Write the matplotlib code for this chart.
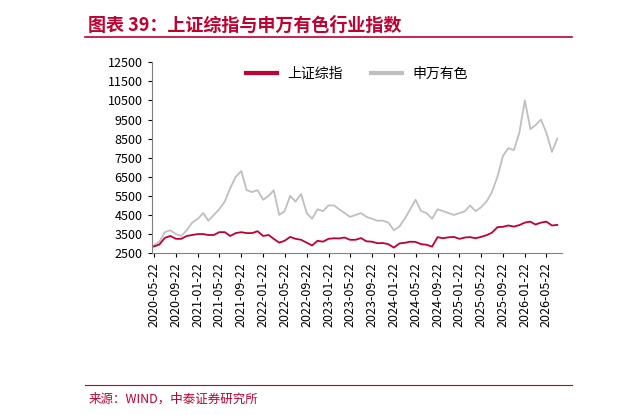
import pandas as pd
import matplotlib.pyplot as plt
from matplotlib.lines import Line2D

plt.rcParams['font.family'] = ['Noto Sans CJK SC', 'DejaVu Sans']

# monthly readings (22nd of each month), 2020-05 .. 2026-07
dates = pd.date_range('2020-05-01', periods=75, freq='MS') + pd.Timedelta(days=21)
sse = [2850, 2950, 3300, 3400, 3250, 3250, 3400, 3450,
       3500, 3500, 3450, 3450, 3600, 3600, 3400, 3550, 3600, 3550, 3550, 3650,
       3400, 3450, 3250, 3050, 3150, 3350, 3250, 3200, 3050, 2900, 3150, 3100,
       3250, 3280, 3270, 3320, 3200, 3200, 3290, 3120, 3100, 3020, 3030, 2970,
       2790, 3010, 3040, 3100, 3090, 2970, 2940, 2840, 3340, 3280, 3330, 3350,
       3250, 3320, 3340, 3280, 3350, 3440, 3570, 3860, 3880, 3950, 3890, 3970,
       4100, 4150, 4000, 4100, 4150, 3950, 3980]
metals = [2900, 3100, 3600, 3700, 3500, 3400, 3700, 4100,
          4300, 4600, 4200, 4500, 4800, 5200, 5900, 6500, 6800, 5800, 5700, 5800,
          5300, 5500, 5800, 4500, 4700, 5500, 5200, 5600, 4600, 4300, 4800, 4700,
          5000, 5000, 4800, 4600, 4400, 4500, 4600, 4400, 4300, 4200, 4200, 4100,
          3700, 3900, 4300, 4800, 5300, 4700, 4600, 4300, 4800, 4700, 4600, 4500,
          4600, 4700, 5000, 4700, 4900, 5200, 5700, 6500, 7600, 8000, 7900, 8800,
          10500, 9000, 9200, 9500, 8800, 7800, 8500]
yticks = list(range(2500, 13000, 1000))
xticks = pd.date_range('2020-05-01', '2026-05-01', freq='4MS') + pd.Timedelta(days=21)

red = '#C00030'
fig = plt.figure(figsize=(6.32, 4.15), dpi=100)
ax = fig.add_axes([0.24, 0.39, 0.65, 0.46])
ax.plot(dates, metals, color='#BFBFBF', lw=1.3, label='申万有色')
ax.plot(dates, sse, color=red, lw=1.3, label='上证综指')

ax.set_ylim(2500, 12500)
ax.set_yticks(yticks)
ax.set_xlim(pd.Timestamp('2020-05-10'), pd.Timestamp('2026-08-20'))
ax.set_xticks(xticks)
ax.set_xticklabels([d.strftime('%Y-%m-%d') for d in xticks], rotation=90)
ax.tick_params(labelsize=9, length=3)
for s in ['top', 'right']:
    ax.spines[s].set_visible(False)
for s in ['left', 'bottom']:
    ax.spines[s].set_color('#808080')

h, l = ax.get_legend_handles_labels()
leg = ax.legend(h[::-1], l[::-1], loc='upper center', ncol=2, frameon=False, fontsize=10,
                bbox_to_anchor=(0.5, 1.04), handlelength=2.2)
for ln in leg.get_lines():
    ln.set_linewidth(3)

fig.text(0.14, 0.925, '图表 39：上证综指与申万有色行业指数', color=red, fontsize=13,
         fontweight='bold', style='italic')
fig.add_artist(Line2D([0.135, 0.905], [0.91, 0.91], color=red, lw=1.2))
fig.add_artist(Line2D([0.135, 0.905], [0.072, 0.072], color=red, lw=0.8))
fig.text(0.14, 0.03, '来源：WIND，中泰证券研究所', color=red, fontsize=9)

fig.savefig('out.png')
